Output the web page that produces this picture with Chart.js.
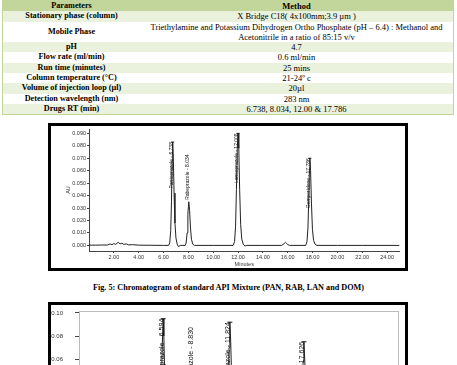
<!DOCTYPE html>
<html>
<head>
<meta charset="utf-8">
<script src="https://cdn.jsdelivr.net/npm/chart.js@4.4.1/dist/chart.umd.min.js"></script>
<style>
  body { margin: 0; width: 457px; height: 365px; overflow: hidden; background: #fff; position: relative; }
  table { position: absolute; left: 2px; top: 0; width: 452px; border-collapse: collapse;
          font-family: "Liberation Serif", serif; font-size: 8.5px; line-height: 10.3px; color: #000;
          border: 1px solid #c2d69b; }
  td { padding: 0; text-align: center; height: 10.3px; }
  td.p { font-weight: bold; width: 137px; font-size: 8.2px; }
  tr.head td { background: #c2d69b; font-weight: bold; }
  tr.g td { background: #eaf1dd; }
  .frame { position: absolute; left: 48px; width: 360px; border: 3px solid #000; box-sizing: border-box; background: #fff; }
  .frame canvas { display: block; }
  #cap { position: absolute; top: 283px; left: 0; width: 457px; text-align: center;
         font: bold 8.2px "Liberation Serif", serif; line-height: 10px; }
</style>
</head>
<body>

<table>
  <tr class="head"><td class="p">Parameters</td><td>Method</td></tr>
  <tr class="g"><td class="p">Stationary phase (column)</td><td>X Bridge C18( 4x100mm;3.9 µm )</td></tr>
  <tr><td class="p">Mobile Phase</td><td>Triethylamine and Potassium Dihydrogen Ortho Phosphate (pH – 6.4) : Methanol and<br>Acetonitrile in a ratio of 85:15 v/v</td></tr>
  <tr class="g"><td class="p">pH</td><td>4.7</td></tr>
  <tr><td class="p">Flow rate (ml/min)</td><td>0.6 ml/min</td></tr>
  <tr class="g"><td class="p">Run time (minutes)</td><td>25 mins</td></tr>
  <tr><td class="p">Column temperature (°C)</td><td>21-24º c</td></tr>
  <tr class="g"><td class="p">Volume of injection loop (µl)</td><td>20µl</td></tr>
  <tr><td class="p">Detection wavelength (nm)</td><td>283 nm</td></tr>
  <tr class="g"><td class="p">Drugs RT (min)</td><td>6.738, 8.034, 12.00 &amp; 17.786</td></tr>
</table>

<div class="frame" style="top:123px;height:148px;"><canvas id="run1" width="354" height="142"></canvas></div>
<div id="cap">Fig. 5: Chromatogram of standard API Mixture (PAN, RAB, LAN and DOM)</div>
<div class="frame" style="top:302px;height:170px;"><canvas id="run2" width="354" height="164"></canvas></div>

<script>
// standard mixture chromatogram (Fig. 5)
const run1Minutes = [0, 0.5, 1.0, 1.5, 1.7, 1.85, 2.0, 2.15, 2.35, 2.5, 2.65, 2.8, 3.0, 3.2, 3.5, 4.0, 5.0, 6.0,
  6.4, 6.5, 6.58, 6.64, 6.69, 6.738, 6.79, 6.85, 6.92, 7.0, 7.1, 7.2, 7.35,
  7.75, 7.82, 7.9, 7.96, 8.034, 8.1, 8.17, 8.25, 8.35, 8.5,
  10.0, 11.6, 11.72, 11.8, 11.87, 11.94, 12.0, 12.06, 12.13, 12.21, 12.3, 12.42, 12.55, 12.7,
  14.0, 15.5, 15.65, 15.75, 15.82, 15.9, 16.0, 16.15,
  17.45, 17.55, 17.63, 17.7, 17.75, 17.786, 17.84, 17.91, 17.99, 18.08, 18.2, 18.35, 20.0, 22.0, 25.0];
const run1AU = [0.0002, 0.0002, 0.0003, 0.0003, 0.0012, 0.0005, 0.0015, 0.0008, 0.0025, 0.0012, 0.0018, 0.0008, 0.0012, 0.0004, 0.0006, 0.0002, 0.0001, 0.0,
  0.0, 0.002, 0.012, 0.035, 0.068, 0.083, 0.070, 0.042, 0.018, 0.006, 0.001, -0.001, 0.0,
  0.0, 0.002, 0.010, 0.025, 0.035, 0.028, 0.014, 0.005, 0.001, 0.0,
  0.0, 0.0, 0.003, 0.015, 0.045, 0.078, 0.090, 0.078, 0.045, 0.017, 0.005, 0.001, -0.0005, 0.0,
  0.0, 0.0, 0.0008, 0.002, 0.0025, 0.0018, 0.0006, 0.0,
  0.0, 0.003, 0.014, 0.040, 0.062, 0.070, 0.060, 0.034, 0.013, 0.004, 0.001, 0.0, 0.0, 0.0, 0.0];
const run1PeakNames = ['Pantoprazole - 6.738', 'Rabeprazole - 8.034', 'Lansoprazole - 12.008', 'Domperidone - 17.786'];
const run1PeakMinutes = [6.738, 8.034, 12.0, 17.786];
const run1PeakAU = [0.083, 0.035, 0.090, 0.070];
const run1AUTicks = [0, 0.01, 0.02, 0.03, 0.04, 0.05, 0.06, 0.07, 0.08, 0.09];

// second chromatogram (cut off at the bottom)
const run2Minutes = [0, 1.5, 2.3, 3.0, 4.0, 6.2, 6.3, 6.4, 6.46, 6.52, 6.594, 6.65, 6.72, 6.8, 6.9, 7.05, 7.3,
  8.55, 8.65, 8.74, 8.83, 8.9, 9.0, 9.15, 9.4,
  11.45, 11.58, 11.68, 11.76, 11.824, 11.89, 11.97, 12.06, 12.18, 12.35,
  17.25, 17.38, 17.48, 17.56, 17.626, 17.69, 17.77, 17.86, 18.0, 18.2, 25.0];
const run2AU = [0.0003, 0.0005, 0.002, 0.001, 0.0003, 0.0, 0.002, 0.012, 0.035, 0.070, 0.095, 0.080, 0.045, 0.018, 0.005, 0.001, 0.0,
  0.0, 0.004, 0.017, 0.031, 0.024, 0.008, 0.001, 0.0,
  0.0, 0.005, 0.030, 0.070, 0.092, 0.075, 0.040, 0.014, 0.004, 0.0,
  0.0, 0.004, 0.025, 0.058, 0.075, 0.060, 0.030, 0.010, 0.002, 0.0, 0.0];
const run2PeakNames = ['Pantoprazole - 6.594', 'Rabeprazole - 8.830', 'Lansoprazole - 11.824', 'Domperidone - 17.626'];
const run2PeakMinutes = [6.594, 8.830, 11.824, 17.626];
const run2PeakAU = [0.095, 0.031, 0.092, 0.075];
const run2AUTicks = [0, 0.02, 0.04, 0.06, 0.08, 0.10];

const minuteTicks = [2, 4, 6, 8, 10, 12, 14, 16, 18, 20, 22, 24];

// rotated peak labels, drawn at the apex of each peak
const peakLabels = {
  id: 'peakLabels',
  afterDatasetsDraw(chart, args, opts) {
    const ctx = chart.ctx;
    const x = chart.scales.x;
    const y = chart.scales.y;
    ctx.save();
    ctx.font = opts.size + 'px "Liberation Sans"';
    ctx.fillStyle = '#111';
    ctx.strokeStyle = '#111';
    ctx.lineWidth = 1;
    ctx.textBaseline = 'middle';
    opts.names.forEach((name, i) => {
      const px = x.getPixelForValue(opts.times[i]);
      const py = y.getPixelForValue(opts.heights[i]);
      const w = ctx.measureText(name).width;
      ctx.save();
      ctx.translate(px, py);
      ctx.rotate(-Math.PI / 2);
      if (py - w - 2 < chart.chartArea.top) {
        // no room above: label hangs down from the apex
        ctx.textAlign = 'right';
        ctx.fillText(name, 0, -1.5);
        ctx.beginPath();
        ctx.moveTo(0, -opts.tick);
        ctx.lineTo(0, opts.tick);
        ctx.stroke();
      } else {
        ctx.textAlign = 'left';
        ctx.fillText(name, 2, -1);
      }
      ctx.restore();
    });
    ctx.restore();
  }
};

// light grey box round the plot area
const plotBox = {
  id: 'plotBox',
  beforeDatasetsDraw(chart, args, opts) {
    if (!opts.color) return;
    const a = chart.chartArea;
    const ctx = chart.ctx;
    ctx.save();
    ctx.strokeStyle = opts.color;
    ctx.lineWidth = 1;
    ctx.strokeRect(Math.round(a.left) + 0.5, Math.round(a.top) + 0.5, Math.round(a.right - a.left), Math.round(a.bottom - a.top));
    ctx.restore();
  }
};

function makeChromatogram(id, minutes, au, s) {
  const ctx = document.getElementById(id).getContext('2d');
  return new Chart(ctx, {
    type: 'line',
    data: {
      datasets: [{
        data: minutes.map((m, i) => ({ x: m, y: au[i] })),
        borderColor: '#222',
        borderWidth: 1,
        pointRadius: 0,
        tension: 0,
        fill: false
      }]
    },
    options: {
      responsive: false,
      animation: false,
      devicePixelRatio: 1,
      layout: { padding: { top: s.padTop, right: s.padRight, left: 0, bottom: 0 } },
      plugins: {
        legend: { display: false },
        tooltip: { enabled: false },
        peakLabels: { names: s.names, times: s.times, heights: s.heights, size: s.labelSize, tick: s.tick },
        plotBox: { color: s.box }
      },
      scales: {
        x: {
          type: 'linear',
          min: 0,
          max: 25,
          afterBuildTicks: (scale) => { scale.ticks = minuteTicks.map(v => ({ value: v })); },
          afterFit: (scale) => {
            scale.height = s.xHeight;
            scale.paddingLeft = 0;
            scale.paddingRight = 0;
          },
          grid: { drawOnChartArea: false, drawTicks: true, tickLength: 2, color: '#444' },
          border: { color: '#444', width: 1 },
          ticks: {
            autoSkip: false, maxRotation: 0, padding: 1, color: '#333',
            font: { family: 'Liberation Sans', size: s.tickSize },
            callback: (v) => Number(v).toFixed(2)
          },
          title: { display: true, text: 'Minutes', color: '#333', padding: 0,
                   font: { family: 'Liberation Sans', size: s.tickSize } }
        },
        y: {
          min: s.yMin,
          max: s.yMax,
          afterBuildTicks: (scale) => { scale.ticks = s.yTicks.map(v => ({ value: v })); },
          afterFit: (scale) => {
            scale.width = s.yWidth;
            // keep the plot top where the layout padding puts it
            scale.paddingTop = 0;
            scale.paddingBottom = 0;
          },
          grid: { drawOnChartArea: false, drawTicks: true, tickLength: s.yTickLen, color: '#444' },
          border: { color: '#444', width: 1 },
          ticks: {
            autoSkip: false, padding: s.yPad, color: '#333',
            font: { family: 'Liberation Sans', size: s.tickSize },
            callback: (v) => Number(v).toFixed(s.yDigits)
          },
          title: { display: true, text: 'AU', color: '#333', padding: { top: s.yTitlePad, bottom: 0 },
                   font: { family: 'Liberation Sans', size: s.tickSize } }
        }
      }
    },
    plugins: [peakLabels, plotBox]
  });
}

makeChromatogram('run1', run1Minutes, run1AU, {
  names: run1PeakNames, times: run1PeakMinutes, heights: run1PeakAU,
  labelSize: 5, tick: 1.5, box: null,
  padTop: 3, padRight: 5.5, xHeight: 17, yWidth: 38, yTickLen: 2, yPad: 1,
  yMin: -0.0045, yMax: 0.0935, yTicks: run1AUTicks, yDigits: 3,
  tickSize: 5.5, yTitlePad: 14.5
});

makeChromatogram('run2', run2Minutes, run2AU, {
  names: run2PeakNames, times: run2PeakMinutes, heights: run2PeakAU,
  labelSize: 7, tick: 2.5, box: '#bbb',
  padTop: 6, padRight: 7, xHeight: 35, yWidth: 28, yTickLen: 4, yPad: 12,
  yMin: -0.005, yMax: 0.1017, yTicks: run2AUTicks, yDigits: 2,
  tickSize: 6, yTitlePad: 2
});
</script>
</body>
</html>
